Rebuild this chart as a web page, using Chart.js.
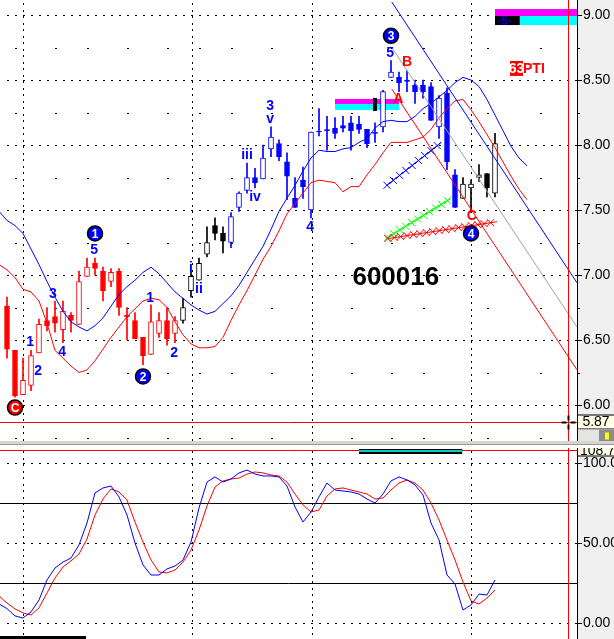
<!DOCTYPE html>
<html>
<head>
<meta charset="utf-8">
<script src="https://cdn.jsdelivr.net/npm/chart.js@4.4.0/dist/chart.umd.min.js"></script>
<style>
html, body { margin: 0; padding: 0; background: #fff; }
#wrap { position: relative; width: 614px; height: 639px; overflow: hidden; }
#priceBox { position: absolute; left: 0; top: 0; width: 614px; height: 441px; }
#sep { position: absolute; left: 0; top: 441px; width: 614px; height: 3px; background: #d8d6cc; border-bottom: 1px solid #9a9a9a; }
#stochBox { position: absolute; left: 0; top: 448px; width: 614px; height: 191px; }
</style>
</head>
<body>
<div id="wrap">
    <div id="priceBox"><canvas id="price"></canvas></div>
    <div id="sep"></div>
    <div id="stochBox"><canvas id="stoch"></canvas></div>
</div>
<script>
// daily bars of 600016, bar index 0 = first full candle on screen
var opens  = [6.76,6.42,6.08,6.15,6.40,6.65,6.68,6.58,6.69,6.62,6.99,7.09,7.03,6.95,7.03,6.69,6.65,6.52,6.39,6.55,6.65,6.55,6.65,6.88,6.96,7.16,7.38,7.32,7.25,7.52,7.65,7.75,7.74,7.97,8.01,7.87,7.59,7.73,7.50,8.10,8.11,8.13,8.15,8.17,8.16,8.12,8.09,8.14,8.52,8.52,8.50,8.46,8.46,8.45,8.14,8.40,7.77,7.59,7.67,7.75,7.78,7.63];
var highs  = [6.83,6.42,6.36,6.42,6.66,6.75,6.80,6.80,6.71,7.03,7.13,7.13,7.06,7.05,7.05,6.75,6.71,6.52,6.77,6.71,6.75,6.68,6.82,7.02,7.13,7.37,7.44,7.37,7.48,7.64,7.86,7.82,8.00,8.14,8.04,7.94,7.75,7.83,8.10,8.28,8.22,8.21,8.22,8.22,8.22,8.12,8.17,8.42,8.65,8.56,8.57,8.50,8.50,8.48,8.38,8.44,7.81,7.75,7.73,7.85,7.78,8.09];
var lows   = [6.36,6.06,6.08,6.11,6.40,6.57,6.56,6.48,6.56,6.62,6.99,7.00,6.80,6.91,6.69,6.50,6.51,6.31,6.39,6.52,6.46,6.48,6.63,6.83,6.96,7.14,7.27,7.17,7.21,7.49,7.63,7.67,7.74,7.91,7.88,7.58,7.52,7.59,7.44,8.07,7.96,8.05,8.10,7.96,8.09,7.98,8.02,8.10,8.52,8.41,8.41,8.32,8.36,8.19,8.05,7.81,7.52,7.59,7.48,7.72,7.60,7.60];
var closes = [6.43,6.07,6.19,6.38,6.62,6.61,6.63,6.72,6.65,6.95,7.06,7.05,6.88,7.02,6.75,6.68,6.51,6.38,6.64,6.65,6.51,6.65,6.75,6.99,7.09,7.25,7.32,7.26,7.45,7.63,7.75,7.71,7.90,8.06,7.91,7.76,7.52,7.68,8.10,8.10,8.11,8.09,8.13,8.11,8.12,8.01,8.09,8.41,8.56,8.48,8.49,8.41,8.41,8.19,8.36,7.87,7.52,7.70,7.70,7.77,7.67,8.01];

// envelope lines, they start one bar before the first candle and run 4 bars ahead
var bandStart = -1;
var upperBand = [7.49,7.42,7.38,7.32,7.20,7.08,6.95,6.83,6.72,6.64,6.60,6.57,6.61,6.67,6.76,6.85,6.91,6.96,7.02,7.06,7.01,6.94,6.87,6.82,6.77,6.73,6.70,6.72,6.78,6.84,6.92,7.02,7.12,7.22,7.35,7.49,7.59,7.69,7.80,7.90,7.96,7.95,7.95,7.97,7.98,8.02,8.05,8.13,8.18,8.19,8.18,8.18,8.22,8.28,8.32,8.37,8.42,8.48,8.52,8.50,8.45,8.35,8.23,8.11,7.99,7.90,7.84];
var lowerBand = [7.08,7.04,6.98,6.89,6.87,6.80,6.63,6.42,6.36,6.30,6.25,6.27,6.34,6.43,6.52,6.60,6.68,6.74,6.80,6.82,6.81,6.75,6.64,6.54,6.47,6.44,6.44,6.45,6.52,6.65,6.77,6.88,7.00,7.12,7.22,7.34,7.47,7.55,7.63,7.71,7.73,7.72,7.71,7.64,7.68,7.68,7.77,7.85,7.94,8.02,8.02,8.02,8.04,8.06,8.12,8.21,8.28,8.34,8.35,8.27,8.18,8.08,7.98,7.87,7.76,7.66,7.58];

// stochastic, same start as the bands
var stochK = [11.9,9,4.4,3.1,6.9,14.4,26.9,34.4,38.1,40.6,48.8,62.5,81.3,84.4,85.6,78.8,67.5,50,36.3,30,30,33.8,35.6,39.4,50.6,71.9,88.1,91.3,88.1,90,93.8,95.6,93.1,91.9,91.9,91.3,85.6,72.5,63.1,69.4,78.8,87.5,83.1,82.5,81.9,80.6,77.5,75,80.6,88.8,91.3,89.4,86.3,80,62.5,51.9,30,24.4,8.1,11.3,18.1,17.5,26.9];
var stochD = [16.9,12.5,8.8,6.3,5,9.4,18.8,28.1,35,38.8,43.1,52.5,67.5,77.5,83.8,81.9,76.9,63.1,50.6,39.4,31.9,31.3,33.1,38.1,45.6,58.1,73.1,85,88.8,90,90.6,93.1,94.4,93.8,92.5,91.9,88.1,80.6,73.8,69.4,70.6,79.4,83.8,84.4,83.1,81.9,80.6,77.5,78.1,83.1,87.5,89.4,87.5,83.1,75,64.4,51.9,39.4,25.6,13.8,11.9,15.6,20.6];
var stochLevels = [25, 75];

var priceTicks = [6.00, 6.50, 7.00, 7.50, 8.00, 8.50, 9.00];
var minorPrices = [5.75, 6.25, 6.75, 7.25, 7.75, 8.25, 8.75];
var stochTicks = [0, 50, 100];
var monthDays = [2, 23.125, 38.125, 58];
var weekDays = [1, 6, 10, 15, 20, 24, 28, 33, 43, 48, 52, 60, 66.6];

// drawn trend lines: [bar, price] end points
var fanTop    = [[48.1, 9.10], [71.25, 6.94]];
var fanMid    = [[48.1, 8.75], [71.25, 6.60]];
var fanLow    = [[48.1, 8.43], [71.25, 6.27]];
var hatchBlue = [[47.5, 7.69], [54.3, 8.02]];
var hatchGreen = [[47.6, 7.29], [55.4, 7.585]];
var hatchRed  = [[47.6, 7.28], [61.25, 7.41]];

// wave count: bar, price, text, kind
var waveNotes = [
    [1, 5.98, 'C', 'ringRed'],
    [2.9, 6.48, '1', 'blue'],
    [3.9, 6.26, '2', 'blue'],
    [5.75, 6.85, '3', 'blue'],
    [6.9, 6.41, '4', 'blue'],
    [10.9, 7.19, '5', 'blue'],
    [11, 7.32, '1', 'ringBlue'],
    [17.9, 6.82, '1', 'blue'],
    [17, 6.22, '2', 'ringBlue'],
    [20.9, 6.40, '2', 'blue'],
    [23, 7.05, 'i', 'blue'],
    [24, 6.89, 'ii', 'blue'],
    [30, 7.92, 'iii', 'blue'],
    [31, 7.60, 'iv', 'blue'],
    [32.9, 8.30, '3', 'blue'],
    [32.9, 8.20, 'v', 'blue'],
    [37.9, 7.37, '4', 'blue'],
    [48, 8.84, '3', 'ringBlue'],
    [47.9, 8.71, '5', 'blue'],
    [50, 8.64, 'B', 'red'],
    [48.9, 8.35, 'A', 'red'],
    [58.1, 7.45, 'C', 'red'],
    [58, 7.32, '4', 'ringBlue']
];
var symbolText = '600016';
var cursorBar = 70.125;
var cursorPrice = 5.87;

var FONT = '"Liberation Sans", Arial, sans-serif';
Chart.defaults.font.family = FONT;
Chart.defaults.animation = false;

var xMin = -0.875, xMax = 71.25;

function toneOf(i) {
    if (i <= 21) return '#ff0000';
    if (i <= 27 || i >= 57) return '#000000';
    return '#0000ff';
}

function pts(arr, start) {
    return arr.map(function(v, i) { return {x: start + i, y: v}; });
}

function seg(p) {
    return p.map(function(q) { return {x: q[0], y: q[1]}; });
}

function lineSet(data, color, extra) {
    var ds = {
        type: 'line', data: data, borderColor: color, borderWidth: 1,
        pointRadius: 0, tension: 0, fill: false, order: 1
    };
    for (var k in extra) ds[k] = extra[k];
    return ds;
}

function noPad(s) {
    s.paddingTop = 0; s.paddingBottom = 0; s.paddingLeft = 0; s.paddingRight = 0;
}

function xScale() {
    return {
        type: 'linear', min: xMin, max: xMax, offset: false,
        grid: {display: false},
        border: {display: false},
        ticks: {display: false},
        afterFit: function(s) { s.height = 0; noPad(s); }
    };
}

function yScale(min, max, tickVals, fmt) {
    return {
        type: 'linear', position: 'right', min: min, max: max,
        grid: {drawOnChartArea: false, color: '#000', tickColor: '#000', tickLength: 5, tickBorderDash: []},
        border: {display: true, color: '#000', width: 1},
        ticks: {color: '#000', padding: 1, font: {size: 14}, callback: fmt},
        afterBuildTicks: function(s) { s.ticks = tickVals.map(function(v) { return {value: v}; }); },
        afterFit: function(s) { s.width = 37; noPad(s); }
    };
}

function paintBack(chart) {
    var ctx = chart.ctx, a = chart.chartArea;
    ctx.save();
    ctx.fillStyle = '#fff';
    ctx.fillRect(0, 0, chart.width, chart.height);
    ctx.fillStyle = '#f0f0f0';
    ctx.fillRect(a.right, 0, chart.width - a.right, chart.height);
    ctx.restore();
}

// dotted grid: horizontal dots sit on the bar slots, vertical dots every ~6.5px
function dotGrid(chart, levels) {
    var ctx = chart.ctx, a = chart.chartArea, xs = chart.scales.x, ys = chart.scales.y;
    ctx.save();
    ctx.fillStyle = '#000';
    levels.forEach(function(v) {
        var py = Math.round(ys.getPixelForValue(v));
        for (var i = 0; i <= 71; i++) {
            var px = Math.round(xs.getPixelForValue(i));
            if (px >= a.left && px < a.right) ctx.fillRect(px, py, 2, 1);
        }
    });
    monthDays.forEach(function(d) {
        var px = Math.round(xs.getPixelForValue(d));
        for (var y = a.top + 3; y < a.bottom; y += 6.5) ctx.fillRect(px, Math.round(y), 1, 2);
    });
    ctx.restore();
}

function cross(ctx, x, y, r) {
    ctx.moveTo(x - r, y - r); ctx.lineTo(x + r, y + r);
    ctx.moveTo(x - r, y + r); ctx.lineTo(x + r, y - r);
}

var pricePlugin = {
    id: 'priceExtras',
    beforeDraw: paintBack,
    beforeDatasetsDraw: function(chart) {
        var ctx = chart.ctx, xs = chart.scales.x, ys = chart.scales.y, a = chart.chartArea;
        dotGrid(chart, priceTicks);
        ctx.save();
        ctx.fillStyle = '#000';
        minorPrices.forEach(function(p) {
            var py = Math.round(ys.getPixelForValue(p));
            weekDays.forEach(function(d) {
                ctx.fillRect(Math.round(xs.getPixelForValue(d)), py, 2, 1);
            });
            ctx.fillRect(a.right + 1, py, 2, 1);
        });
        // signal strips
        var sx1 = xs.getPixelForValue(41), sx2 = xs.getPixelForValue(49);
        ctx.fillStyle = '#ff00ff';
        ctx.fillRect(sx1, ys.getPixelForValue(8.354), sx2 - sx1, 5);
        ctx.fillStyle = '#00ffff';
        ctx.fillRect(sx1, ys.getPixelForValue(8.315), sx2 - sx1, 6);
        ctx.fillStyle = '#000';
        ctx.fillRect(xs.getPixelForValue(46) - 2, ys.getPixelForValue(8.362), 4, 13);

        var tx1 = xs.getPixelForValue(61), tx2 = a.right, tx3 = xs.getPixelForValue(64.1);
        ctx.fillStyle = '#ff00ff';
        ctx.fillRect(tx1, ys.getPixelForValue(9.046), tx2 - tx1, 7);
        ctx.fillStyle = '#00ffff';
        ctx.fillRect(tx3, ys.getPixelForValue(8.992), tx2 - tx3, 9);
        ctx.fillStyle = '#000';
        ctx.fillRect(tx1, ys.getPixelForValue(8.992), tx3 - tx1, 9);
        ctx.fillStyle = '#0000c0';
        ctx.font = 'bold 12px ' + FONT;
        ctx.textBaseline = 'middle';
        ctx.fillText('-5-', tx1 + 2, ys.getPixelForValue(8.95));
        ctx.restore();
    },
    afterDatasetsDraw: function(chart) {
        var ctx = chart.ctx, xs = chart.scales.x, ys = chart.scales.y, a = chart.chartArea;
        ctx.save();
        // cross hatched lines
        chart.data.datasets.forEach(function(ds, i) {
            if (!ds.hatch) return;
            var el = chart.getDatasetMeta(i).data;
            var x1 = el[0].x, y1 = el[0].y, x2 = el[1].x, y2 = el[1].y;
            var len = Math.hypot(x2 - x1, y2 - y1);
            ctx.beginPath();
            for (var d = 0; d <= len; d += ds.hatch) {
                cross(ctx, x1 + (x2 - x1) * d / len, y1 + (y2 - y1) * d / len, 3.5);
            }
            ctx.strokeStyle = ds.borderColor;
            ctx.lineWidth = 1;
            ctx.stroke();
        });

        ctx.textAlign = 'center';
        ctx.textBaseline = 'middle';
        waveNotes.forEach(function(n) {
            var x = xs.getPixelForValue(n[0]), y = ys.getPixelForValue(n[1]);
            if (n[3] === 'ringBlue' || n[3] === 'ringRed') {
                ctx.beginPath();
                ctx.arc(x, y, 7.5, 0, Math.PI * 2);
                ctx.fillStyle = n[3] === 'ringRed' ? '#ff0000' : '#0000ff';
                ctx.fill();
                ctx.lineWidth = 1.5;
                ctx.strokeStyle = '#000';
                ctx.stroke();
                ctx.fillStyle = '#fff';
                ctx.font = 'bold 12px ' + FONT;
                ctx.fillText(n[2], x, y + 1);
            } else {
                ctx.fillStyle = n[3] === 'red' ? '#ff0000' : '#0000ff';
                ctx.font = 'bold 14px ' + FONT;
                ctx.fillText(n[2], x, y);
            }
        });

        // 63PTI tag
        var gx = xs.getPixelForValue(65), gy = ys.getPixelForValue(8.585);
        ctx.fillStyle = '#ff0000';
        ctx.fillRect(gx - 17, gy - 8, 13, 15);
        ctx.font = 'bold 14px ' + FONT;
        ctx.fillStyle = '#fff';
        ctx.fillText('63', gx - 10.5, gy);
        ctx.fillStyle = '#ff0000';
        ctx.textAlign = 'left';
        ctx.fillText('PTI', gx - 4, gy);

        ctx.textAlign = 'center';
        ctx.fillStyle = '#000';
        ctx.font = 'bold 26px ' + FONT;
        ctx.fillText(symbolText, xs.getPixelForValue(48.6), ys.getPixelForValue(6.977));

        // cursor
        var cx = Math.round(xs.getPixelForValue(cursorBar)) + 0.5;
        var cy = Math.round(ys.getPixelForValue(cursorPrice)) + 0.5;
        ctx.strokeStyle = '#ff0000';
        ctx.lineWidth = 1;
        ctx.beginPath();
        ctx.moveTo(cx, 0); ctx.lineTo(cx, chart.height);
        ctx.moveTo(0, cy); ctx.lineTo(a.right, cy);
        ctx.stroke();
        ctx.strokeStyle = '#000';
        ctx.lineWidth = 2;
        ctx.beginPath();
        ctx.moveTo(cx - 7, cy); ctx.lineTo(cx - 2, cy);
        ctx.moveTo(cx + 2, cy); ctx.lineTo(cx + 7, cy);
        ctx.moveTo(cx, cy - 7); ctx.lineTo(cx, cy - 2);
        ctx.moveTo(cx, cy + 2); ctx.lineTo(cx, cy + 7);
        ctx.stroke();

        // price box
        ctx.fillStyle = '#ffffe8';
        ctx.fillRect(a.right, cy - 7, chart.width - a.right, 14);
        ctx.strokeStyle = '#000';
        ctx.lineWidth = 1;
        ctx.strokeRect(a.right + 0.5, cy - 7.5, chart.width - a.right, 14);
        ctx.fillStyle = '#000';
        ctx.font = '14px ' + FONT;
        ctx.fillText(cursorPrice.toFixed(2), a.right + 19, cy);
        ctx.fillStyle = '#e4e4e4';
        ctx.fillRect(a.right + 1, cy + 7, chart.width - a.right, 13);
        ctx.fillStyle = '#8c8c8c';
        ctx.fillRect(a.right + 22, cy + 7, 15, 13);
        ctx.fillStyle = '#ffff00';
        ctx.fillRect(a.right + 28, cy + 10, 4, 7);
        ctx.restore();
    }
};

var bodyData = opens.map(function(o, i) { return {x: i, y: [o, closes[i]]}; });
var wickData = opens.map(function(o, i) { return {x: i, y: [lows[i], highs[i]]}; });

new Chart(document.getElementById('price'), {
    type: 'line',
    data: {
        datasets: [
            lineSet(seg(fanTop), '#0000ff', {order: 0}),
            lineSet(seg(fanMid), '#a0a0a0', {order: 0}),
            lineSet(seg(fanLow), '#ff0000', {order: 0}),
            lineSet(seg(hatchBlue), '#0000ff', {order: 0, hatch: 8}),
            lineSet(seg(hatchGreen), '#00ff00', {order: 0, hatch: 7}),
            lineSet(seg(hatchRed), '#ff0000', {order: 0, hatch: 6.5}),
            lineSet(pts(upperBand, bandStart), '#0000ff'),
            lineSet(pts(lowerBand, bandStart), '#ff0000'),
            {
                type: 'bar', data: bodyData, grouped: false, barThickness: 5,
                borderWidth: 1, borderSkipped: false, minBarLength: 1, order: 2,
                borderColor: function(c) { return toneOf(c.dataIndex); },
                backgroundColor: function(c) {
                    var i = c.dataIndex;
                    return closes[i] > opens[i] ? '#ffffff' : toneOf(i);
                }
            },
            {
                type: 'bar', data: wickData, grouped: false, barThickness: 1,
                borderWidth: 0, order: 3,
                backgroundColor: function(c) { return toneOf(c.dataIndex); }
            }
        ]
    },
    options: {
        responsive: true, maintainAspectRatio: false, events: [],
        layout: {padding: 0},
        plugins: {legend: {display: false}, tooltip: {enabled: false}},
        scales: {
            x: xScale(),
            y: yScale(9.1154 - 441 / 130, 9.1154, priceTicks, function(v) { return v.toFixed(2); })
        }
    },
    plugins: [pricePlugin]
});

var stochPlugin = {
    id: 'stochExtras',
    beforeDraw: paintBack,
    beforeDatasetsDraw: function(chart) {
        var ctx = chart.ctx, ys = chart.scales.y, a = chart.chartArea;
        dotGrid(chart, stochTicks);
        ctx.save();
        ctx.strokeStyle = '#000';
        ctx.lineWidth = 1;
        ctx.beginPath();
        stochLevels.forEach(function(l) {
            var py = Math.round(ys.getPixelForValue(l)) + 0.5;
            ctx.moveTo(0, py); ctx.lineTo(a.right, py);
        });
        ctx.stroke();
        ctx.restore();
    },
    afterDatasetsDraw: function(chart) {
        var ctx = chart.ctx, xs = chart.scales.x, a = chart.chartArea;
        ctx.save();
        ctx.strokeStyle = '#ff0000';
        ctx.lineWidth = 1;
        ctx.beginPath();
        ctx.moveTo(0, 2.5); ctx.lineTo(a.right, 2.5);
        var cx = Math.round(xs.getPixelForValue(cursorBar)) + 0.5;
        ctx.moveTo(cx, 0); ctx.lineTo(cx, chart.height);
        ctx.stroke();

        var bx1 = xs.getPixelForValue(44), bx2 = xs.getPixelForValue(56.9);
        ctx.fillStyle = '#000';
        ctx.fillRect(bx1, 1, bx2 - bx1, 5);
        ctx.fillStyle = '#00cccc';
        ctx.fillRect(bx1, 2, bx2 - bx1, 2);

        ctx.fillStyle = '#000';
        ctx.fillRect(0, chart.height - 3, 86, 3);

        // top value box
        ctx.fillStyle = '#ffffe8';
        ctx.fillRect(a.right, 0, chart.width - a.right, 8);
        ctx.strokeStyle = '#000';
        ctx.strokeRect(a.right + 0.5, -1, chart.width - a.right, 9);
        ctx.fillStyle = '#000';
        ctx.font = '14px ' + FONT;
        ctx.textBaseline = 'alphabetic';
        ctx.fillText('108.70', a.right + 3, 7);
        ctx.restore();
    }
};

new Chart(document.getElementById('stoch'), {
    type: 'line',
    data: {
        datasets: [
            lineSet(pts(stochK, bandStart), '#0000ff'),
            lineSet(pts(stochD, bandStart), '#ff0000')
        ]
    },
    options: {
        responsive: true, maintainAspectRatio: false, events: [],
        layout: {padding: 0},
        plugins: {legend: {display: false}, tooltip: {enabled: false}},
        scales: {
            x: xScale(),
            y: yScale(-10, 100 + 15 / 1.6, stochTicks, function(v) { return v >= 100 ? v.toFixed(1) : v.toFixed(2); })
        }
    },
    plugins: [stochPlugin]
});
</script>
</body>
</html>
